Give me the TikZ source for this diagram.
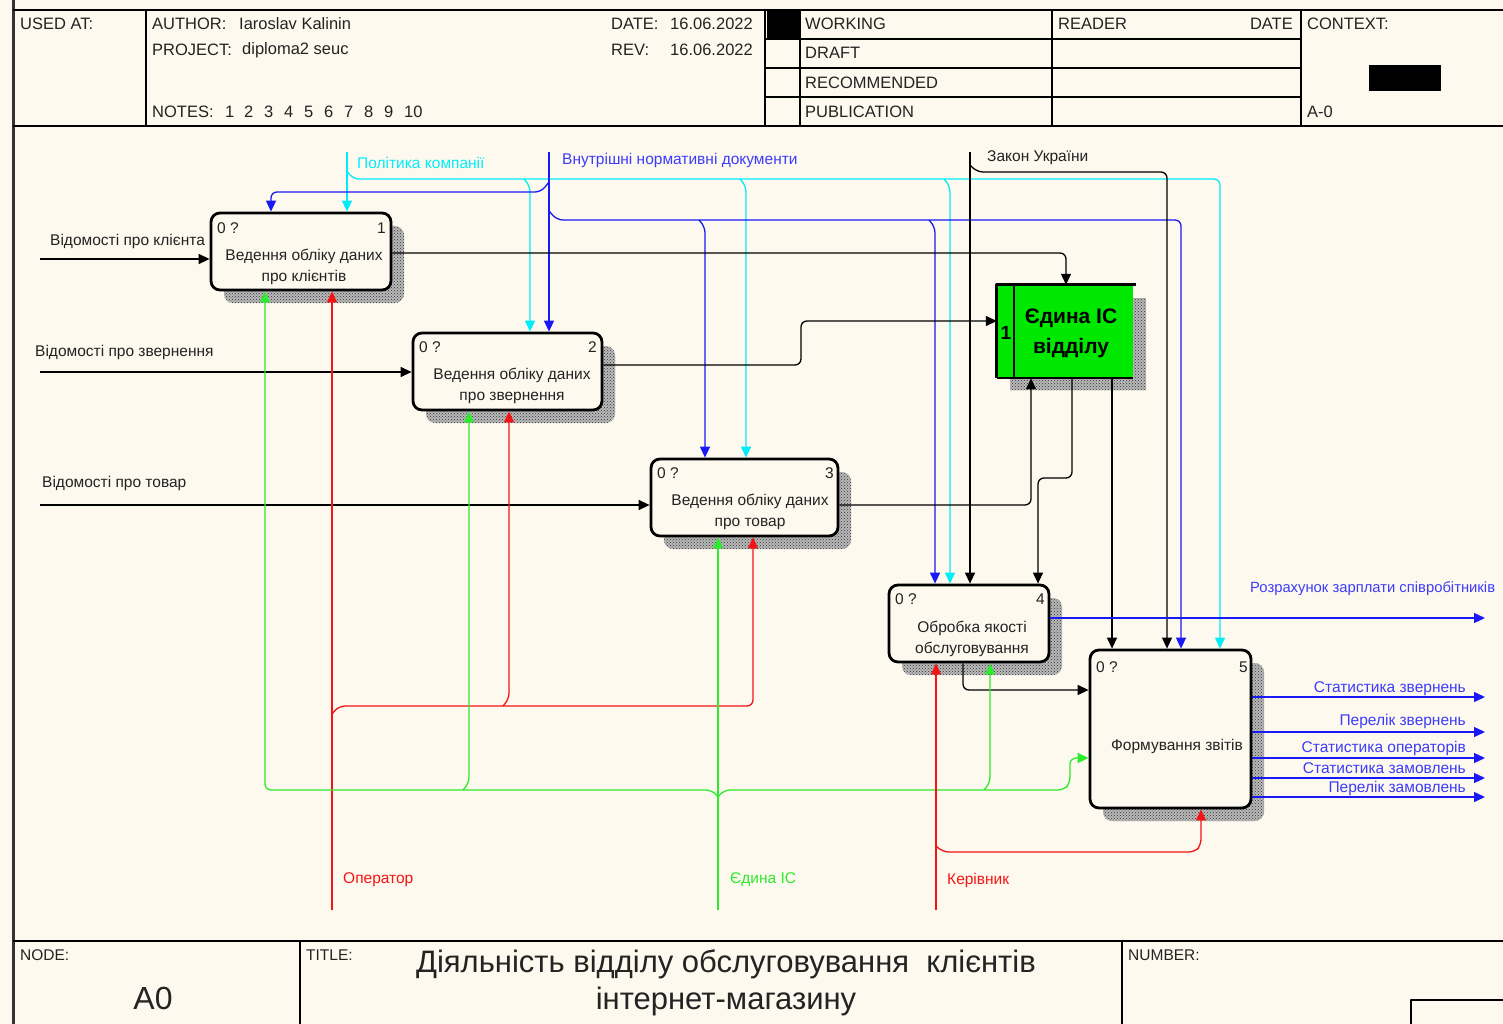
\documentclass[tikz,border=0pt]{standalone}
\usepackage{fontspec}
\setmainfont{Liberation Sans}
\usetikzlibrary{arrows.meta,patterns}
\definecolor{bg}{RGB}{253,249,238}
\definecolor{cyanL}{RGB}{0,238,250}
\definecolor{blueL}{RGB}{25,25,245}
\definecolor{blueT}{RGB}{60,60,250}
\definecolor{greenL}{RGB}{45,235,45}
\definecolor{redL}{RGB}{245,20,20}
\definecolor{icgreen}{RGB}{0,232,0}
\definecolor{txt}{RGB}{35,35,35}
\begin{document}
\begin{tikzpicture}[x=1pt,y=-1pt,line join=round,
  hdr/.style={inner sep=0,anchor=west,font=\fontsize{16.5}{19}\selectfont,text=txt},
  ftr/.style={inner sep=0,anchor=west,font=\fontsize{15.5}{18}\selectfont,text=txt},
  lbl/.style={inner sep=0,anchor=west,font=\fontsize{15.5}{18}\selectfont,text=txt},
  boxt/.style={inner sep=0,align=center,font=\fontsize{15.5}{21}\selectfont,text=txt},
  fbox/.style={draw=black,line width=2.8pt,rounded corners=9pt,fill=bg,inner sep=0},
  shadbase/.style={fill=black!28,rounded corners=9pt},
  shad/.style={pattern=crosshatch dots,pattern color=black!80,rounded corners=9pt},
  conn/.style={line width=1.3pt,rounded corners=6pt},
  arr/.style={conn,-{Triangle[length=11pt,width=10pt]}}]
\useasboundingbox (0,0) rectangle (1503,1024);
\fill[bg] (0,0) rectangle (1503,1024);

% ---------- frame and header ----------
\draw[line width=3pt,black!80] (13,0) -- (13,1024);
\draw[line width=2pt] (13,10) -- (1503,10);
\draw[line width=2pt] (13,126) -- (1503,126);
\foreach \x in {146,765,800,1052,1301} \draw[line width=1.6pt] (\x,10) -- (\x,126);
\foreach \y in {39,68,97} \draw[line width=1.6pt] (765,\y) -- (1301,\y);
\fill (767,11) rectangle (799,38);
\fill (1369,65) rectangle (1441,91);

\node[hdr] (usedat) at (20,24) {USED AT:};
\node[hdr] (author) at (152,24) {AUTHOR:};
\node[hdr] (authorv) at (239,24) {Iaroslav Kalinin};
\node[hdr] (project) at (152,50) {PROJECT:};
\node[hdr] (projectv) at (242,50) {diploma2 seuc};
\node[hdr] (notes) at (152,112) {NOTES:};
\foreach \n/\x in {1/225,2/244,3/264,4/284,5/304,6/324,7/344,8/364,9/384,10/404}
  \node[hdr] (note\n) at (\x,112) {\n};
\node[hdr] (date) at (611,24) {DATE:};
\node[hdr] (datev) at (670,24) {16.06.2022};
\node[hdr] (rev) at (611,50) {REV:};
\node[hdr] (revv) at (670,50) {16.06.2022};
\node[hdr] (working) at (805,24) {WORKING};
\node[hdr] (draft) at (805,53) {DRAFT};
\node[hdr] (recom) at (805,83) {RECOMMENDED};
\node[hdr] (public) at (805,112) {PUBLICATION};
\node[hdr] (reader) at (1058,24) {READER};
\node[hdr,anchor=east] (rdate) at (1293,24) {DATE};
\node[hdr] (context) at (1307,24) {CONTEXT:};
\node[hdr] (aminus) at (1307,112) {A-0};

% ---------- footer ----------
\draw[line width=2pt] (13,941) -- (1503,941);
\draw[line width=1.6pt] (300,941) -- (300,1024);
\draw[line width=1.6pt] (1122,941) -- (1122,1024);
\draw[line width=1.6pt] (1411,1024) -- (1411,1000) -- (1503,1000);
\node[ftr] (nodel) at (20,955) {NODE:};
\node[ftr] (titlel) at (306,955) {TITLE:};
\node[ftr] (numberl) at (1128,955) {NUMBER:};
\node[inner sep=0,font=\fontsize{32}{36}\selectfont,text=txt] (a0) at (153,998) {A0};
\node[inner sep=0,align=center,font=\fontsize{31}{37}\selectfont,text=txt] (title) at (726,983)
  {Діяльність відділу обслуговування\ \ клієнтів\\інтернет-магазину};

% ---------- shadows ----------
\foreach \a/\b/\c/\d in {224/226/404/303,426/346/615/423,664/472/851/549,902/598/1062/675,1103/663/1264/821}{
  \path[shadbase] (\a,\b) rectangle (\c,\d);
  \path[shad] (\a,\b) rectangle (\c,\d);
}
\path[fill=black!28] (1010,298) rectangle (1146,390);
\path[pattern=crosshatch dots,pattern color=black!80] (1010,298) rectangle (1146,390);

% ---------- boxes ----------
\node[fbox,minimum width=180pt,minimum height=77pt] (b1) at (301,251.5) {};
\node[fbox,minimum width=189pt,minimum height=77pt] (b2) at (507.5,371.5) {};
\node[fbox,minimum width=187pt,minimum height=77pt] (b3) at (744.5,497.5) {};
\node[fbox,minimum width=160pt,minimum height=77pt] (b4) at (969,623.5) {};
\node[fbox,minimum width=161pt,minimum height=158pt] (b5) at (1170.5,729) {};
\node[fill=icgreen,inner sep=0,minimum width=136pt,minimum height=93pt] (ic) at (1065,331.5) {};
\draw[line width=3pt] (ic.south west) -- (ic.north west) -- ([xshift=3pt]ic.north east);
\draw[line width=2pt] (ic.south west) -- (ic.south east);
\draw[line width=2pt] (1014,285) -- (1014,378);

\node[lbl] (b1q) at (217,228) {0 ?};
\node[lbl,anchor=east] (b1n) at (386,228) {1};
\node[boxt] (b1t) at (304,267) {Ведення обліку даних\\про клієнтів};
\node[lbl] (b2q) at (419,347) {0 ?};
\node[lbl,anchor=east] (b2n) at (597,347) {2};
\node[boxt] (b2t) at (512,386) {Ведення обліку даних\\про звернення};
\node[lbl] (b3q) at (657,473) {0 ?};
\node[lbl,anchor=east] (b3n) at (834,473) {3};
\node[boxt] (b3t) at (750,512) {Ведення обліку даних\\про товар};
\node[lbl] (b4q) at (895,599) {0 ?};
\node[lbl,anchor=east] (b4n) at (1045,599) {4};
\node[boxt] (b4t) at (972,639) {Обробка якості\\обслуговування};
\node[lbl] (b5q) at (1096,667) {0 ?};
\node[lbl,anchor=east] (b5n) at (1248,667) {5};
\node[boxt] (b5t) at (1177,746) {Формування звітів};
\node[inner sep=0,font=\bfseries\fontsize{19}{22}\selectfont] (icn) at (1006,333) {1};
\node[inner sep=0,align=center,font=\bfseries\fontsize{21}{30}\selectfont] (ict) at (1071,333) {Єдина IC\\відділу};

% ---------- inputs ----------
\coordinate (in1) at (40,259);
\coordinate (in2) at (40,372);
\coordinate (in3) at (40,505);
\draw[arr] (in1) -- (in1 -| b1.west);
\draw[arr] (in2) -- (in2 -| b2.west);
\draw[arr] (in3) -- (in3 -| b3.west);
\node[lbl] (in1l) at (50,241) {Відомості про клієнта};
\node[lbl] (in2l) at (35,352) {Відомості про звернення};
\node[lbl] (in3l) at (42,483) {Відомості про товар};

% ---------- controls ----------
\coordinate (pk) at (347,152);
\draw[arr,cyanL] (pk) -- (pk |- b1.north);
\draw[arr,cyanL] (347,171) -- (353,179) -- (1220,179) -- (1220,179 |- b5.north);
\draw[arr,cyanL] (524,179) -- (530,186) -- (530,186 |- b2.north);
\draw[arr,cyanL] (740,179) -- (746,186) -- (746,186 |- b3.north);
\draw[arr,cyanL] (944,179) -- (950,186) -- (950,186 |- b4.north);
\node[lbl,text=cyanL] (pkl) at (357,163) {Політика компанії};

\coordinate (vn) at (549,152);
\draw[arr,blueL] (vn) -- (vn |- b2.north);
\draw[arr,blueL] (549,182) -- (541,192) -- (271,192) -- (271,192 |- b1.north);
\draw[arr,blueL] (549,211) -- (557,220) -- (1181,220) -- (1181,220 |- b5.north);
\draw[arr,blueL] (699,220) -- (705,227) -- (705,227 |- b3.north);
\draw[arr,blueL] (929,220) -- (935,227) -- (935,227 |- b4.north);
\node[lbl,text=blueT] (vnl) at (562,160) {Внутрішні нормативні документи};

\coordinate (zu) at (970,152);
\draw[arr] (zu) -- (zu |- b4.north);
\draw[arr] (970,165) -- (977,172) -- (1167,172) -- (1167,172 |- b5.north);
\node[lbl] (zul) at (987,158) {Закон України};

% ---------- outputs ----------
\draw[arr] (b1.east |- 0,253) -- (1066,253) -- (1066,253 |- ic.north);
\draw[arr] (b2.east |- 0,365) -- (801,365) -- (801,321) -- (ic.west |- 0,321);
\draw[arr] (b3.east |- 0,505) -- (1031,505) -- (1031,505 |- ic.south);
\draw[arr] (1072,0 |- ic.south) -- (1072,478) -- (1038,478) -- (1038,478 |- b4.north);
\draw[arr] (1112,0 |- ic.south) -- (1112,0 |- b5.north);
\draw[arr] (963,0 |- b4.south) -- (963,690) -- (b5.west |- 0,690);

\coordinate (o0) at (1485,618);
\draw[arr,blueL] (b4.east |- o0) -- (o0);
\node[lbl,text=blueT,font=\fontsize{14.8}{18}\selectfont] (o0l) at (1250,589) {Розрахунок зарплати співробітників};
\foreach \i/\y/\ly/\t in {1/697/689/Статистика звернень,2/732/721/Перелік звернень,3/758/748/Статистика операторів,4/778/768/Статистика замовлень,5/797/788/Перелік замовлень}{
  \coordinate (o\i) at (1485,\y);
  \draw[arr,blueL] (b5.east |- o\i) -- (o\i);
  \node[lbl,anchor=east,text=blueT] (o\i l) at (1466,\ly) {\t};
}

% ---------- mechanisms ----------
\coordinate (op) at (332,910);
\draw[arr,redL] (op) -- (op |- b1.south);
\draw[arr,redL] (332,714) -- (339,706) -- (753,706) -- (753,706 |- b3.south);
\draw[arr,redL] (503,706) -- (509,699) -- (509,699 |- b2.south);
\node[lbl,text=redL] (opl) at (343,880) {Оператор};

\coordinate (eic) at (718,910);
\draw[arr,greenL] (eic) -- (eic |- b3.south);
\draw[arr,greenL] (718,797) -- (712,790) -- (265,790) -- (265,790 |- b1.south);
\draw[arr,greenL] (718,797) -- (724,790) -- (1064,790) -- (1070,783) -- (1070,758) -- (b5.west |- 0,758);
\draw[arr,greenL] (463,790) -- (469,783) -- (469,783 |- b2.south);
\draw[arr,greenL] (984,790) -- (990,783) -- (990,783 |- b4.south);
\node[lbl,text=greenL] (eicl) at (730,880) {Єдина IC};

\coordinate (kv) at (936,910);
\draw[arr,redL] (kv) -- (kv |- b4.south);
\draw[arr,redL] (936,846) -- (943,852) -- (1195,852) -- (1201,845) -- (1201,845 |- b5.south);
\node[lbl,text=redL] (kvl) at (947,880) {Керівник};
\end{tikzpicture}
\end{document}
